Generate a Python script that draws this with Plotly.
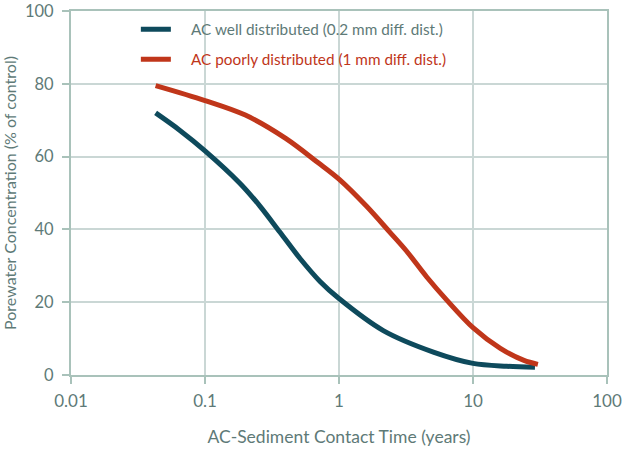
import plotly.graph_objects as go

# Data
well_time = [0.0428, 0.065, 0.1, 0.182, 0.257, 0.363, 0.512, 0.722, 1.0, 2.14, 5.06, 10, 17.8, 29]
well_conc = [72.0, 67.2, 61.6, 52.7, 46.4, 39.2, 32.0, 25.7, 21.0, 12.2, 6.3, 3.2, 2.4, 2.1]

poor_time = [0.0428, 0.1, 0.2, 0.4, 0.7, 1.0, 1.6, 2.4, 3.2, 4.5, 6.4, 10, 16, 24, 30.5]
poor_conc = [79.5, 75.4, 71.4, 65.0, 58.3, 53.8, 46.4, 39.2, 34.0, 27.0, 20.5, 13.0, 7.3, 4.0, 2.9]

x_ticks = [0.01, 0.1, 1, 10, 100]
x_tick_labels = ["0.01", "0.1", "1", "10", "100"]
y_ticks = [0, 20, 40, 60, 80, 100]

name_well = "AC well distributed (0.2 mm diff. dist.)"
name_poor = "AC poorly distributed (1 mm diff. dist.)"

BLUE = "#0e4a5c"
RED = "#c0361a"
TEXT = "#5e7a77"
GRID = "#cad7d5"
AXIS = "#a9c2ba"
FONT = "Lato, 'Open Sans', sans-serif"
PAD = "\u00a0" * 4

fig = go.Figure()
fig.add_trace(go.Scatter(
    x=well_time, y=well_conc, mode="lines", line=dict(color=BLUE, width=5, shape="spline", smoothing=0.9),
    name=PAD + "<span style='color:%s'>%s</span>" % (TEXT, name_well), legendgroup="a"))
fig.add_trace(go.Scatter(
    x=poor_time, y=poor_conc, mode="lines", line=dict(color=RED, width=5, shape="spline", smoothing=0.9),
    name=PAD + "<span style='color:%s'>%s</span>" % (RED, name_poor), legendgroup="b"))

fig.update_layout(
    width=623, height=450,
    margin=dict(l=71, r=16, t=11, b=75, autoexpand=False),
    paper_bgcolor="white", plot_bgcolor="white",
    font=dict(family=FONT, size=17, color=TEXT),
    showlegend=True,
    legend=dict(x=0.121, y=0.995, xanchor="left", yanchor="top", bgcolor="rgba(0,0,0,0)",
                font=dict(family=FONT, size=15.3, color=TEXT), traceorder="grouped", tracegroupgap=7),
    xaxis=dict(type="log", range=[-2, 2], tickvals=x_ticks, ticktext=x_tick_labels,
               showgrid=True, gridcolor=GRID, gridwidth=1.5, automargin=False,
               showline=True, linecolor=AXIS, linewidth=2, mirror=True,
               ticks="outside", ticklen=7, tickcolor=AXIS, tickwidth=1.5,
               ticklabelstandoff=3, ticklabeloverflow="allow", zeroline=False,
               title=dict(text="AC-Sediment Contact Time (years)", standoff=20,
                          font=dict(size=17.5, color=TEXT))),
    yaxis=dict(range=[0, 100], tickvals=y_ticks, tickfont=dict(size=16.5),
               showgrid=True, gridcolor=GRID, gridwidth=1.5, automargin=False,
               showline=True, linecolor=AXIS, linewidth=2, mirror=True,
               ticks="outside", ticklen=7, tickcolor=AXIS, tickwidth=1.5,
               ticklabelstandoff=5, ticklabeloverflow="allow", zeroline=False,
               title=dict(text="Porewater Concentration (% of control)", standoff=12,
                          font=dict(size=16, color=TEXT))),
)

fig.write_html("out.html", config={"displayModeBar": False},
               post_script="document.body.style.margin='0';")
